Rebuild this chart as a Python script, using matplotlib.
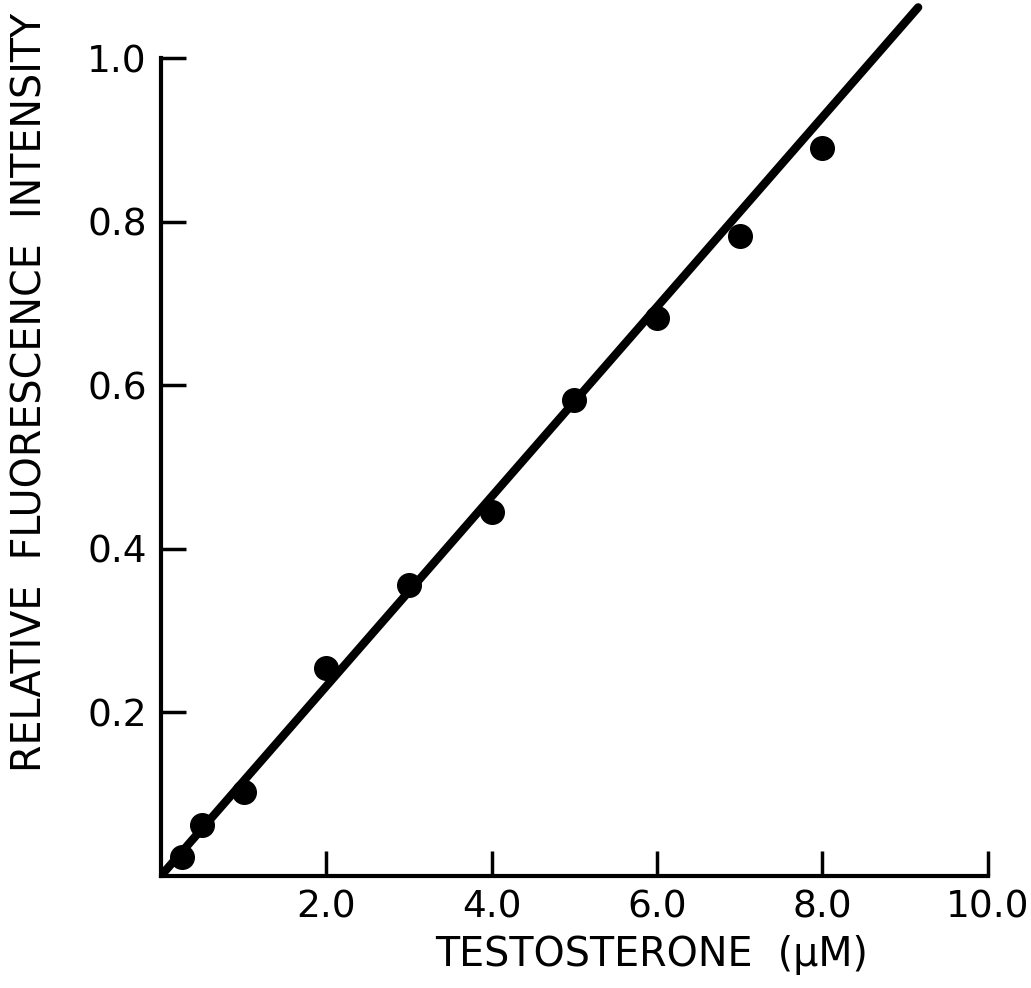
import numpy as np
import matplotlib
matplotlib.use('Agg')
import matplotlib.pyplot as plt

# концентрация тестостерона (мкМ) и относительная интенсивность флуоресценции
conc = [0.25, 0.5, 1.0, 2.0, 3.0, 4.0, 5.0, 6.0, 7.0, 8.0]
intensity = [0.023, 0.062, 0.103, 0.254, 0.356, 0.445, 0.582, 0.682, 0.782, 0.890]

# прямая градуировки (концы отрезка)
fit_x = [0.0, 9.16]
fit_y = [0.0, 1.062]

x_ticks = [2.0, 4.0, 6.0, 8.0, 10.0]
x_ticklabels = ['2.0', '4.0', '6.0', '8.0', '10.0']
y_ticks = [0.2, 0.4, 0.6, 0.8, 1.0]
y_ticklabels = ['0.2', '0.4', '0.6', '0.8', '1.0']

plt.rcParams['font.family'] = ['DejaVu Sans']

fig = plt.figure(figsize=(10.31, 9.88), dpi=100)
ax = fig.add_axes([0.156, 0.1134, 0.838, 0.8866])

ax.plot(fit_x, fit_y, color='black', lw=6, solid_capstyle='round', zorder=2)
ax.plot(conc, intensity, 'o', color='black', markersize=17, zorder=3)

ax.set_xlim(0, 10.45)
ax.set_ylim(0, 1.071)

for s in ['top', 'right']:
    ax.spines[s].set_visible(False)
ax.spines['left'].set_bounds(0, 1.0)
ax.spines['bottom'].set_bounds(0, 10.0)
ax.spines['left'].set_linewidth(3)
ax.spines['bottom'].set_linewidth(3)

ax.set_xticks(x_ticks)
ax.set_xticklabels(x_ticklabels)
ax.set_yticks(y_ticks)
ax.set_yticklabels(y_ticklabels)
ax.tick_params(direction='in', length=18, width=2.5, labelsize=27, pad=10)

fig.text(0.632, 0.033, 'TESTOSTERONE  (\u03bcM)', ha='center', va='center', fontsize=28.5)
fig.text(0.03, 0.603, 'RELATIVE  FLUORESCENCE  INTENSITY', ha='center', va='center',
         rotation=90, fontsize=28.5)

fig.savefig('out.png', dpi=100)
